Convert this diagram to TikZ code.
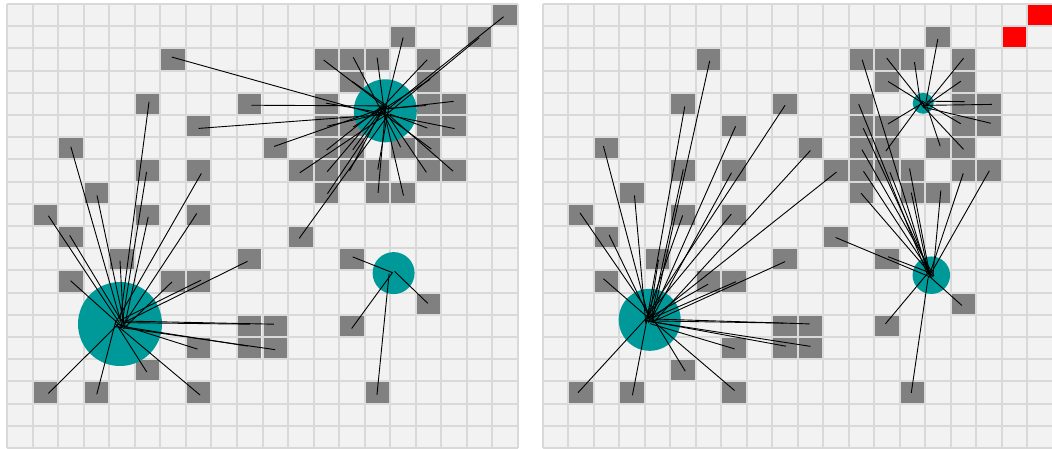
\documentclass[tikz,border=0pt]{standalone}
\usetikzlibrary{calc}
\definecolor{cellbg}{RGB}{242,242,242}
\definecolor{gridgray}{RGB}{217,217,217}
\definecolor{datagray}{RGB}{128,128,128}
\definecolor{clusterteal}{RGB}{0,153,153}
\begin{document}
\begin{tikzpicture}[
    x=1pt, y=-1pt,
    gridline/.style={draw=gridgray, line width=2pt, line cap=square},
    datacell/.style={rectangle, fill=datagray, minimum width=23.5pt, minimum height=20.2pt, inner sep=0pt},
    outlier/.style={datacell, fill=red},
    centroid/.style={circle, fill=clusterteal, inner sep=0pt},
    link/.style={draw=black, line width=0.9pt}
]
    \def\cw{25.52}
    \def\ch{22.2}
    \def\ty{4}
    % cell / left cluster / right cluster
    \def\cells{15/1/B/B, 6/2/B/A, 12/2/B/C, 13/2/B/B, 14/2/B/B, 16/2/B/B, 13/3/B/B, 16/3/B/B,
        5/4/A/A, 9/4/B/A, 12/4/B/C, 16/4/B/B, 17/4/B/B, 7/5/B/A, 12/5/B/C, 13/5/B/B, 16/5/B/B, 17/5/B/B,
        2/6/A/A, 10/6/B/A, 12/6/B/C, 13/6/B/B, 15/6/B/B, 16/6/B/B, 5/7/A/A, 7/7/A/A, 11/7/B/A, 12/7/B/C,
        13/7/B/C, 14/7/B/C, 16/7/B/C, 17/7/B/C, 3/8/A/A, 12/8/B/C, 14/8/B/C, 15/8/B/C, 1/9/A/A, 5/9/A/A,
        7/9/A/A, 2/10/A/A, 11/10/B/C, 4/11/A/A, 9/11/A/A, 13/11/C/C, 2/12/A/A, 6/12/A/A, 7/12/A/A,
        16/13/C/C, 9/14/A/A, 10/14/A/A, 13/14/C/C, 7/15/A/A, 9/15/A/A, 10/15/A/A, 5/16/A/A, 1/17/A/A,
        3/17/A/A, 7/17/A/A, 14/17/C/C}
    \useasboundingbox (0,0) rectangle (1052,448);
    \clip (0,0) rectangle (1052,448);

    % grids
    \foreach \px in {7.3, 542.5} {
        \fill[cellbg] (\px,\ty) rectangle ++(510.4,444);
        \foreach \k in {0,...,20} {
            \draw[gridline] ({\px+\k*\cw},\ty) -- ++(0,444);
            \draw[gridline] (\px,{\ty+\k*\ch}) -- ++(510.4,0);
        }
    }

    % data cells
    \foreach \i/\j/\a/\b in \cells {
        \node[datacell] (l-\i-\j) at ({7.3+(\i+.5)*\cw},{\ty+(\j+.5)*\ch}) {};
        \node[datacell] (r-\i-\j) at ({542.5+(\i+.5)*\cw},{\ty+(\j+.5)*\ch}) {};
    }
    \foreach \i/\j in {19/0, 18/1} {
        \node[datacell] (l-\i-\j) at ({7.3+(\i+.5)*\cw},{\ty+(\j+.5)*\ch}) {};
        \node[outlier] (r-\i-\j) at ({542.5+(\i+.5)*\cw},{\ty+(\j+.5)*\ch}) {};
    }

    % centroids
    \node[centroid, minimum size=84pt] (lA) at (120,324) {};
    \node[centroid, minimum size=63pt] (lB) at (385.3,110.8) {};
    \node[centroid, minimum size=42pt] (lC) at (393.6,273.1) {};
    \node[centroid, minimum size=62pt] (rA) at (649.7,319.8) {};
    \node[centroid, minimum size=21pt] (rB) at (923.2,103.3) {};
    \node[centroid, minimum size=37.5pt] (rC) at (931.3,275.2) {};

    % assignments
    \pgfmathsetseed{42}
    \foreach \i/\j/\a/\b in \cells {
        \draw[link] ($(l-\i-\j.center)+({3*rand},{3*rand})$) -- ($(l\a.center)+({5*rand},{5*rand})$);
        \draw[link] ($(r-\i-\j.center)+({3*rand},{3*rand})$) -- ($(r\b.center)+({4*rand},{4*rand})$);
    }
    \foreach \i/\j in {19/0, 18/1}
        \draw[link] ($(l-\i-\j.center)+({3*rand},{3*rand})$) -- ($(lB.center)+({5*rand},{5*rand})$);
\end{tikzpicture}
\end{document}
